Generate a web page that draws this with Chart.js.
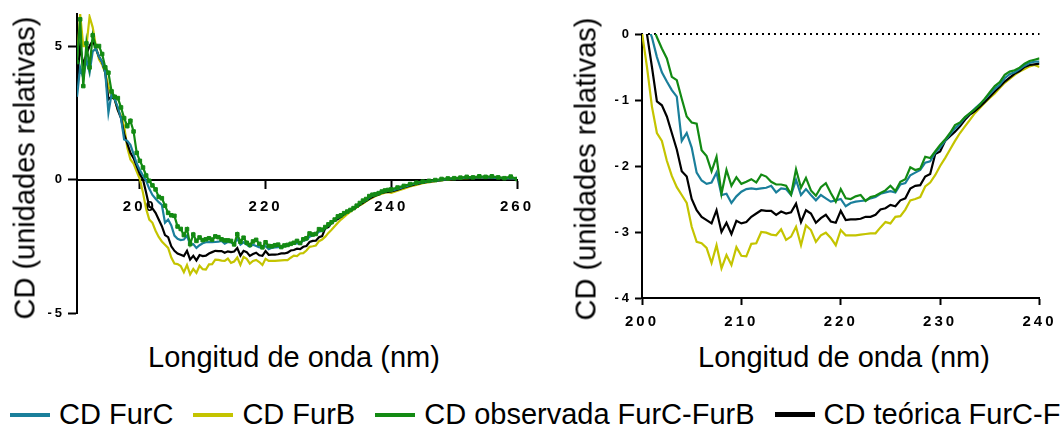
<!DOCTYPE html>
<html>
<head>
<meta charset="utf-8">
<script src="https://cdn.jsdelivr.net/npm/chart.js@4.4.1/dist/chart.umd.min.js"></script>
<style>
body{margin:0;background:#fff;width:1060px;height:428px;overflow:hidden;position:relative;font-family:"Liberation Sans",Arial,sans-serif;color:#000}
canvas{position:absolute;top:0}
.ttl{position:absolute;font-size:29px;line-height:29px;white-space:nowrap}
.rot{transform:translate(-50%,-50%) rotate(-90deg)}
#legend{position:absolute;left:10px;top:400px;display:flex;align-items:center;font-size:29px;line-height:29px;white-space:nowrap}
#legend .sw{width:40px;height:4px;margin-right:9px}
#legend .it{display:flex;align-items:center;margin-right:20px}
</style>
</head>
<body>
<canvas id="chartLeft" width="540" height="340" style="left:0"></canvas>
<canvas id="chartRight" width="500" height="340" style="left:560px"></canvas>
<div class="ttl rot" style="left:25px;top:168px">CD (unidades relativas)</div>
<div class="ttl rot" style="left:586px;top:169px">CD (unidades relativas)</div>
<div class="ttl" style="left:294px;top:343px;transform:translateX(-50%)">Longitud de onda (nm)</div>
<div class="ttl" style="left:844px;top:343px;transform:translateX(-50%)">Longitud de onda (nm)</div>
<div id="legend"></div>
<script>
// wavelength grid (nm)
const wavelengths=[190,190.5,191,191.5,192,192.5,193,193.5,194,194.5,195,195.5,196,196.5,197,197.5,198,198.5,199,199.5,
200,200.5,201,201.5,202,202.5,203,203.5,204,204.5,205,205.5,206,206.5,207,207.5,208,208.5,209,209.5,
210,210.5,211,211.5,212,212.5,213,213.5,214,214.5,215,215.5,216,216.5,217,217.5,218,218.5,219,219.5,
220,220.5,221,221.5,222,222.5,223,223.5,224,224.5,225,225.5,226,226.5,227,227.5,228,228.5,229,229.5,
230,230.5,231,231.5,232,232.5,233,233.5,234,234.5,235,235.5,236,236.5,237,237.5,238,238.5,239,239.5,
240,241,242,243,244,245,246,247,248,249,250,251,252,253,254,255,256,257,258,259,260];

const cdFurC=[3.1,4.2,3.8,4.5,4.0,4.8,4.9,4.6,4.4,4.0,2.5,3.2,3.0,2.7,2.3,1.5,1.45,1.3,0.95,0.6,
0.35,0.15,-0.05,-0.35,-0.58,-0.72,-0.85,-0.95,-1.62,-1.5,-1.72,-2.1,-2.22,-2.27,-2.25,-2.1,-2.44,-2.42,-2.56,-2.46,
-2.39,-2.35,-2.34,-2.35,-2.34,-2.33,-2.3,-2.4,-2.34,-2.35,-2.44,-2.21,-2.44,-2.35,-2.44,-2.52,-2.44,-2.49,-2.54,-2.52,
-2.5,-2.61,-2.56,-2.54,-2.53,-2.52,-2.49,-2.47,-2.42,-2.4,-2.38,-2.4,-2.28,-2.26,-2.14,-2.1,-2.06,-1.95,-1.93,-1.8,
-1.72,-1.62,-1.52,-1.43,-1.36,-1.27,-1.2,-1.13,-1.06,-0.99,-0.91,-0.83,-0.77,-0.67,-0.61,-0.58,-0.53,-0.48,-0.44,-0.42,
-0.42,-0.35,-0.28,-0.2,-0.14,-0.1,-0.06,-0.04,-0.01,0.02,0.04,0.05,0.07,0.08,0.08,0.09,0.07,0.06,0.05,0.04,0.04];

const cdFurB=[4.4,6.2,5.0,5.0,6.1,5.7,5.0,4.5,4.3,4.0,3.5,3.1,3.0,2.6,2.4,2.0,1.2,0.75,0.6,0.3,
0.02,-0.5,-1.1,-1.5,-1.62,-1.92,-2.15,-2.32,-2.44,-2.56,-2.92,-3.15,-3.17,-3.24,-3.47,-3.2,-3.55,-3.35,-3.5,-3.23,
-3.36,-3.37,-3.18,-3.17,-3.0,-3.01,-3.04,-3.05,-2.96,-3.12,-3.07,-2.92,-3.2,-2.9,-2.97,-3.15,-3.05,-3.01,-3.09,-3.2,
-2.97,-3.05,-3.05,-3.05,-3.04,-3.03,-3.02,-3.02,-2.93,-2.85,-2.87,-2.77,-2.76,-2.66,-2.52,-2.5,-2.47,-2.31,-2.25,-2.14,
-2.0,-1.88,-1.75,-1.62,-1.5,-1.4,-1.3,-1.2,-1.12,-1.04,-0.97,-0.9,-0.82,-0.74,-0.68,-0.62,-0.57,-0.53,-0.49,-0.47,
-0.5,-0.42,-0.34,-0.26,-0.2,-0.14,-0.1,-0.06,-0.03,0.0,0.02,0.04,0.05,0.06,0.07,0.07,0.06,0.06,0.05,0.04,0.03];

const cdObservada=[4.4,6.0,3.5,5.1,4.2,5.4,5.0,5.0,4.7,4.2,4.0,3.3,3.1,3.05,2.7,2.3,2.0,2.2,1.8,1.0,
0.7,0.45,0.15,-0.05,-0.22,-0.37,-0.65,-0.7,-0.98,-1.25,-1.34,-1.36,-1.76,-1.85,-2.08,-1.86,-2.42,-2.06,-2.3,-2.17,
-2.27,-2.24,-2.2,-2.25,-2.13,-2.16,-2.24,-2.28,-2.28,-2.3,-2.43,-2.05,-2.33,-2.18,-2.37,-2.45,-2.32,-2.26,-2.41,-2.54,
-2.35,-2.49,-2.5,-2.46,-2.44,-2.53,-2.47,-2.45,-2.41,-2.37,-2.3,-2.38,-2.24,-2.2,-2.02,-2.06,-2.04,-1.86,-1.88,-1.78,
-1.68,-1.6,-1.5,-1.38,-1.34,-1.26,-1.2,-1.14,-1.07,-0.98,-0.88,-0.79,-0.73,-0.62,-0.57,-0.55,-0.51,-0.45,-0.41,-0.39,
-0.37,-0.3,-0.24,-0.17,-0.12,-0.08,-0.05,-0.02,0.02,0.04,0.05,0.07,0.1,0.08,0.12,0.1,0.12,0.08,0.05,0.11,0.02];

const cdTeorica=[3.6,5.0,4.3,4.7,5.0,5.2,4.9,4.6,4.4,4.0,3.0,3.1,3.0,2.6,2.3,1.7,1.35,1.0,0.8,0.5,
0.2,0.0,-0.5,-1.02,-1.08,-1.25,-1.5,-1.75,-2.08,-2.16,-2.5,-2.67,-2.77,-2.82,-2.87,-2.67,-3.0,-2.86,-3.03,-2.83,
-2.87,-2.85,-2.77,-2.72,-2.67,-2.68,-2.68,-2.74,-2.69,-2.72,-2.7,-2.57,-2.85,-2.67,-2.72,-2.86,-2.79,-2.74,-2.84,-2.86,
-2.68,-2.82,-2.81,-2.81,-2.8,-2.77,-2.77,-2.74,-2.66,-2.64,-2.59,-2.61,-2.52,-2.49,-2.34,-2.3,-2.29,-2.16,-2.12,-1.82,
-1.78,-1.62,-1.55,-1.48,-1.4,-1.3,-1.22,-1.17,-1.1,-1.03,-0.95,-0.87,-0.8,-0.72,-0.66,-0.6,-0.56,-0.5,-0.47,-0.46,
-0.45,-0.38,-0.3,-0.23,-0.17,-0.12,-0.08,-0.05,-0.02,0.01,0.03,0.04,0.06,0.07,0.08,0.08,0.07,0.06,0.05,0.04,0.04];

const seriesNames=['CD FurC','CD FurB','CD observada FurC-FurB','CD teórica FurC-FurB'];
const seriesColors=['#1a7f9b','#c4c400','#138a13','#000000'];
const seriesValues=[cdFurC,cdFurB,cdObservada,cdTeorica];
const seriesOrder=[1,3,0,2];

const leftXTicks=[200,220,240,260];
const leftYTicks=[-5,0,5];
const rightXTicks=[200,210,220,230,240];
const rightYTicks=[-4,-3,-2,-1,0];

const spacingPlugin={id:'spacing',beforeDraw(chart){chart.ctx.letterSpacing='3px'}};
const zeroLinePlugin={id:'zeroLine',beforeDatasetsDraw(chart){
  const c=chart.ctx,a=chart.chartArea,y=chart.scales.y.getPixelForValue(0);
  c.save();c.strokeStyle='#000';c.lineWidth=2;c.setLineDash([2,4]);
  c.beginPath();c.moveTo(a.left+6,y);c.lineTo(a.right,y);c.stroke();c.restore();
}};

function makeDatasets(markers){
  return seriesValues.map((vals,i)=>({
    label:seriesNames[i],
    data:wavelengths.map((w,j)=>({x:w,y:vals[j]})),
    borderColor:seriesColors[i],
    backgroundColor:seriesColors[i],
    borderWidth:2.2,
    order:seriesOrder[i],
    pointRadius:(markers&&i===2)?2.5:0,
    pointStyle:'rect',
    pointBorderWidth:1,
    tension:0
  }));
}

function axis(min,max,tickVals,fixSize,isX,fontSize,tickLen,pad){
  return {
    type:'linear',min:min,max:max,
    afterBuildTicks:s=>{s.ticks=tickVals.map(v=>({value:v}))},
    afterFit:s=>{if(isX){s.height=fixSize}else{s.width=fixSize}},
    grid:{drawOnChartArea:false,tickLength:tickLen,tickColor:'#000',tickWidth:2},
    border:{color:'#000',width:2},
    ticks:{color:'#000',font:{family:'"Liberation Sans", Arial',size:fontSize,weight:'bold'},padding:pad,autoSkip:false,maxRotation:0}
  };
}

const leftX=axis(190,260,leftXTicks,0,true,15,8,10);
leftX.position={y:0};
new Chart(document.getElementById('chartLeft'),{
  type:'line',
  data:{datasets:makeDatasets(true)},
  options:{
    responsive:false,animation:false,
    layout:{padding:{top:14,right:23,bottom:27,left:0}},
    plugins:{legend:{display:false},tooltip:{enabled:false}},
    scales:{x:leftX,y:axis(-5,6.2,leftYTicks,77,false,13,9,3)}
  },
  plugins:[spacingPlugin]
});

new Chart(document.getElementById('chartRight'),{
  type:'line',
  data:{datasets:makeDatasets(false)},
  options:{
    responsive:false,animation:false,
    layout:{padding:{top:34,right:14,bottom:0,left:0}},
    plugins:{legend:{display:false},tooltip:{enabled:false}},
    scales:{x:axis(200,240,rightXTicks,42,true,15,7,8),y:axis(-4,0,rightYTicks,82,false,13,7,3)}
  },
  plugins:[spacingPlugin,zeroLinePlugin]
});

const legend=document.getElementById('legend');
seriesNames.forEach((n,i)=>{
  const it=document.createElement('div');it.className='it';
  const sw=document.createElement('div');sw.className='sw';sw.style.background=seriesColors[i];
  if(i===3)sw.style.height='5px';
  const tx=document.createElement('span');tx.textContent=n;
  it.appendChild(sw);it.appendChild(tx);legend.appendChild(it);
});
</script>
</body>
</html>
